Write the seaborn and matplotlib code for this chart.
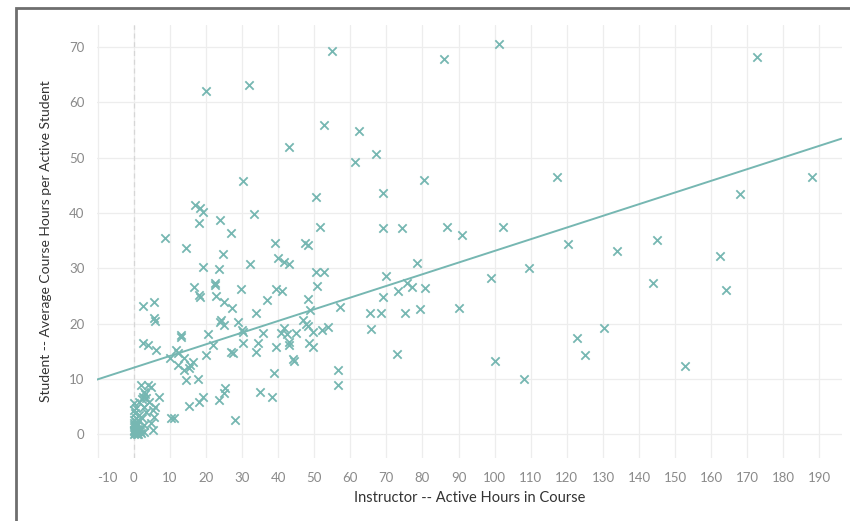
""" Scatter of student vs instructor active hours with a linear trend line. """

import numpy as np
import pandas as pd
import seaborn as sns
import matplotlib.pyplot as plt
from matplotlib.patches import Rectangle

# instructor active hours (x) and student average hours (y)
instructor_hours = [
    20, 32, 55, 86, 101.3, 172.6, 52.8, 62.5, 43.1, 67.2, 61.4, 30.4, 80.3, 117.3, 187.8, 168.1, 69.1, 50.6,
    17.1, 18.5, 19.1, 18.0, 24, 27, 8.6, 14.4, 24.6, 33.2, 51.7, 39.1, 47.4, 48.3, 40.1, 41.5, 43.1, 32.1,
    50.6, 52.8, 50.9, 29.6, 39.3, 41.2, 37, 48.4, 69.2, 74.4, 86.9, 91, 102.4,
    78.5, 69.8, 99, 109.5, 75.8, 73.3, 77.1, 80.6, 69.2, 65.5, 68.6, 75.2, 79.4, 90.2, 65.8, 73, 100.1, 108.1,
    122.8, 125, 130.3, 143.8, 152.7, 164, 120.3, 133.8, 144.9, 162.3,
    19.1, 23.5, 22.4, 22.6, 16.6, 18, 18.5, 22.7, 24.9, 5.5, 2.5, 5.5, 5.8, 2.5, 3.9, 6.1, 13, 13.2, 11.6,
    12.2, 10, 13.8, 16.3, 15.5, 12.4, 13.8, 15.2, 14.4, 17.7, 19.9, 20.7, 22.1, 24.3, 24.9, 24, 27, 25.2,
    24.9, 23.5, 19.1, 18, 15.2, 11.1, 10.4, 6.9, 5.8,
    27.1, 28.8, 30.1, 30.4, 27.4, 30.4, 34, 35.7, 34.3, 34, 39.3, 39, 35.1, 38.4, 28.2, 41.5, 40.9, 42.6,
    42.9, 42.9, 45, 44, 44.5, 47, 47.6, 48.4, 49.8, 48.9, 48.7, 49.8, 52.3, 53.9, 57.2, 56.7, 56.7,
    1.9, 3.9, 4.7, 2.8, 2.5, 3.2, 0, 0.5, 2.8, 3.3, 5.3, 5.5, 4.7, 5.3, 2.8, 1.1, 0.2, 2.8, 4.1, 1.4,
    0.1, 2.2, 3.5, 0, 0.3, 0.6, 0.1, 0.9, 1.3, 0.4, 1.7, 0.2, 1.0, 2.0, 0.5, 1.5, 0.3, 2.3, 0.8, 0.0,
    0.4, 1.2, 0.7, 1.8, 0.2, 1.1, 0.6,
]
student_hours = [
    62, 63.1, 69.3, 67.8, 70.6, 68.2, 55.9, 54.8, 51.9, 50.6, 49.2, 45.7, 46, 46.5, 46.5, 43.4, 43.6, 42.9,
    41.4, 40.9, 40.1, 38.2, 38.7, 36.4, 35.5, 33.6, 32.5, 39.8, 37.4, 34.5, 34.5, 34.3, 31.8, 31.1, 30.7, 30.7,
    29.3, 29.3, 26.8, 26.2, 26.2, 25.9, 24.2, 24.4, 37.2, 37.2, 37.4, 36, 37.4,
    30.9, 28.6, 28.2, 30, 27.3, 25.9, 26.6, 26.4, 24.8, 22, 22, 22, 22.6, 22.8, 19, 14.5, 13.2, 9.9,
    17.4, 14.3, 19.2, 27.3, 12.3, 26, 34.4, 33.1, 35.1, 32.2,
    30.2, 29.8, 27.3, 26.9, 26.6, 25.1, 24.8, 25, 23.9, 23.9, 23.2, 21, 20.4, 16.5, 16.1, 15.2, 17.9, 17.6, 15.2,
    14.6, 13.7, 13.7, 13, 12.5, 12.5, 11.6, 11.9, 9.8, 9.9, 14.3, 18.1, 16.1, 20.6, 19.7, 20.2, 14.8, 8.3,
    7.4, 6.1, 6.7, 5.8, 5.1, 2.9, 3, 6.7, 4.9,
    22.8, 20.3, 18.8, 18.5, 14.6, 16.5, 22, 18.3, 16.5, 14.8, 15.7, 11, 7.6, 6.7, 2.5, 19.2, 18.3, 18.1,
    16.6, 16.1, 18.3, 13.6, 13.2, 20.6, 19.9, 19.5, 18.4, 22.4, 16.5, 15.7, 18.8, 19.3, 23, 11.6, 8.9,
    8.9, 8.9, 8.5, 7.6, 6.7, 7.2, 4.3, 4.7, 4.9, 4, 4.3, 3.1, 2, 0.7, 0.4, 2.5, 2, 1.6, 5.8, 5.8,
    5.6, 6.3, 6.5, 0, 0.2, 0.5, 0.8, 0.1, 0.6, 1.2, 1.0, 1.6, 1.9, 0.2, 3.0, 3.5, 3.8, 3.0, 0.3, 0.6,
    0.4, 0.9, 1.4, 0.5, 2.6, 0.1, 2.2,
]
x_ticks = list(range(-10, 200, 10))
y_ticks = list(range(0, 80, 10))

df = pd.DataFrame({"instructor": instructor_hours, "student": student_hours})

teal = "#76b7b2"
sns.set_style("white")
plt.rcParams["font.family"] = ["Lato", "DejaVu Sans"]

fig = plt.figure(figsize=(8.5, 5.21), dpi=100)
ax = fig.add_axes([0.114, 0.121, 0.876, 0.831])
ax.set_xlim(-10.2, 196.1)
ax.set_ylim(-4.3, 74)

# grid + zero line
for t in x_ticks:
    ax.axvline(t, color="#ededed", lw=0.9, zorder=0)
for t in y_ticks:
    ax.axhline(t, color="#ededed", lw=0.9, zorder=0)
ax.axvline(0, color="#d6d6d6", lw=0.9, ls=(0, (4, 3)), zorder=0)

sns.scatterplot(data=df, x="instructor", y="student", marker="x", s=36, color=teal,
                linewidth=1.3, ax=ax, zorder=3)
sns.regplot(data=df, x="instructor", y="student", scatter=False, ci=None, truncate=False,
            color=teal, line_kws=dict(lw=1.4), ax=ax)
ax.set_xlim(-10.2, 196.1)
ax.set_ylim(-4.3, 74)

ax.set_xticks(x_ticks)
ax.set_yticks(y_ticks)
ax.set_xticklabels([str(t) for t in x_ticks])
ax.tick_params(axis="both", length=0, labelsize=9.5, labelcolor="#8a8a8a")
ax.tick_params(axis="x", pad=10)
ax.tick_params(axis="y", pad=9)
ax.get_xticklabels()[0].set_horizontalalignment("left")
for sp in ax.spines.values():
    sp.set_visible(False)

ax.set_xlabel("Instructor -- Active Hours in Course", fontsize=10.5, color="#333333", labelpad=5)
ax.set_ylabel("Student -- Average Course Hours per Active Student", fontsize=10, color="#333333", labelpad=12)

# outer frame (cut off at right and bottom)
fig.add_artist(Rectangle((16 / 850, -0.5), 2, 1.5 - 8 / 521, transform=fig.transFigure,
                         fill=False, edgecolor="#6e6e6e", lw=2, clip_on=False))

plt.savefig("out.png", dpi=100)
plt.close()
